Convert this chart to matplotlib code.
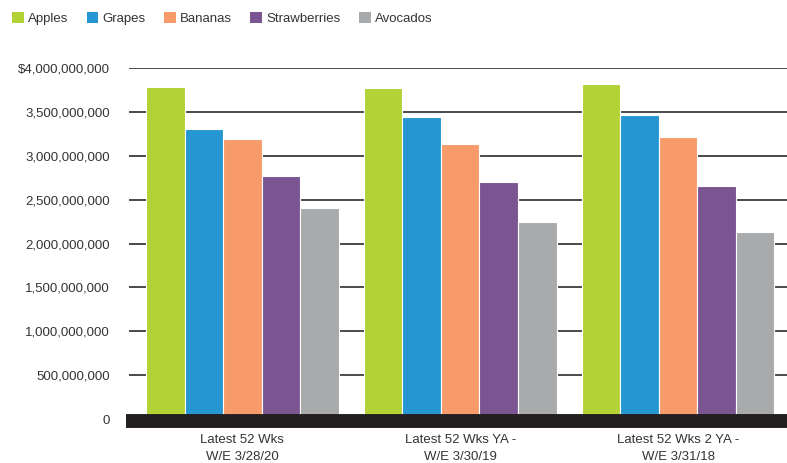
import matplotlib.pyplot as plt
from matplotlib.patches import Patch
from matplotlib.ticker import FuncFormatter
import numpy as np

# category labels and series values (dollar sales, billions)
periods = ['Latest 52 Wks\nW/E 3/28/20', 'Latest 52 Wks YA -\nW/E 3/30/19', 'Latest 52 Wks 2 YA -\nW/E 3/31/18']
fruits = ['Apples', 'Grapes', 'Bananas', 'Strawberries', 'Avocados']
apples = [3.78, 3.77, 3.82]
grapes = [3.30, 3.44, 3.47]
bananas = [3.19, 3.14, 3.21]
strawberries = [2.77, 2.70, 2.66]
avocados = [2.41, 2.24, 2.13]
colors = ['#b2d235', '#2596d1', '#f79b6b', '#7b5592', '#a9aaac']

plt.rcParams['font.family'] = ['Liberation Sans Narrow', 'Liberation Sans', 'DejaVu Sans']

fig = plt.figure(figsize=(7.87, 4.63), dpi=100)
ax = fig.add_axes([0.164, 0.095, 0.836, 0.758])

series = [apples, grapes, bananas, strawberries, avocados]
x = np.arange(len(periods))
w = 0.177
for i, vals in enumerate(series):
    ax.bar(x + (i - 2) * w, np.array(vals) * 1e9, w, color=colors[i],
           edgecolor='white', linewidth=0.8, zorder=3)

ax.set_xlim(-0.52, 2.5)
ax.set_ylim(0, 4e9)
ax.set_yticks(np.arange(0, 4.01e9, 0.5e9))

def fmt(v, pos):
    if v == 0:
        return '0'
    s = '{:,.0f}'.format(v)
    return '$' + s if v >= 4e9 else s

ax.yaxis.set_major_formatter(FuncFormatter(fmt))
ax.grid(axis='y', color='#4a4a4a', linewidth=1.4, zorder=1)
# thick black baseline, sits a touch below zero
ax.axhline(-0.025e9, xmin=-0.005, xmax=1, color='#231f20', linewidth=10,
           solid_capstyle='butt', zorder=4, clip_on=False)

ax.set_xticks(x)
ax.set_xticklabels(periods, fontsize=9.5, color='#333333', linespacing=1.5)
ax.tick_params(axis='x', length=0, pad=11)
ax.tick_params(axis='y', length=0, pad=14, labelsize=9.5, labelcolor='#333333')
for s in ax.spines.values():
    s.set_visible(False)

handles = [Patch(facecolor=c, edgecolor='none') for c in colors]
fig.legend(handles, fruits, loc='upper left', bbox_to_anchor=(0.0, 1.0), ncol=5,
           frameon=False, fontsize=9.5, handlelength=0.9, handleheight=0.9,
           handletextpad=0.3, columnspacing=1.4, labelcolor='#333333')

fig.savefig('out.png', dpi=100)
